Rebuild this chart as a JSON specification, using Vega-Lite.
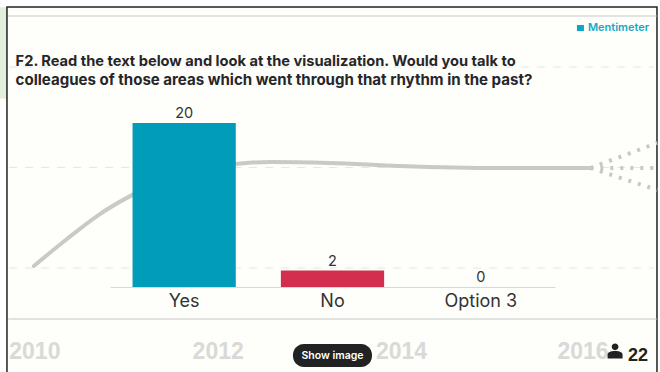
{"$schema":"https://vega.github.io/schema/vega-lite/v6.json","width":445,"height":164,"autosize":"none","padding":{"left":110,"top":123,"right":105,"bottom":85},"background":"#ffffff","view":{"stroke":null},
"datasets":{
"panels":[{"part":"side","x0":2009.62,"x1":2009.696,"l0":2.587,"l1":1.692},{"part":"slide","x0":2009.696,"x1":2016.787,"l0":2.597,"l1":-1.1}],
"guides":[{"level":2},{"level":1},{"level":0}],
"dividers":[{"level":2.507},{"level":-0.507}],
"trend":[{"year":2009.99,"level":0.02},{"year":2010.35,"level":0.289},{"year":2010.71,"level":0.537},{"year":2011.07,"level":0.73},{"year":2011.47,"level":0.9},{"year":2012.19,"level":1.035},{"year":2012.57,"level":1.055},{"year":2013.22,"level":1.045},{"year":2013.98,"level":1.015},{"year":2015.07,"level":0.995},{"year":2016.06,"level":0.995}],
"forecast":[{"s":"a","year":2016.06,"level":0.995},{"s":"a","year":2016.79,"level":1.244},{"s":"b","year":2016.06,"level":0.995},{"s":"b","year":2016.79,"level":0.995},{"s":"c","year":2016.06,"level":0.995},{"s":"c","year":2016.79,"level":0.776}],
"years":[{"year":2010,"level":-0.836,"label":"2010"},{"year":2012,"level":-0.836,"label":"2012"},{"year":2014,"level":-0.836,"label":"2014"},{"year":2015.98,"level":-0.836,"label":"2016"}],
"answers":[{"answer":"Yes","count":20},{"answer":"No","count":2},{"answer":"Option 3","count":0}]
},
"resolve":{"scale":{"x":"independent","y":"independent"},"axis":{"x":"independent","y":"independent"}},
"layer":[
{"layer":[
{"data":{"name":"panels"},"mark":{"type":"rect","clip":false},"encoding":{
"x":{"field":"x0","type":"quantitative","scale":{"domain":[2009.62,2016.82],"range":[-110,550],"nice":false,"zero":false},"axis":null},
"x2":{"field":"x1"},
"y":{"field":"l0","type":"quantitative","scale":{"domain":[-1.035,2.667],"range":[249,-123],"nice":false,"zero":false},"axis":null},
"y2":{"field":"l1"},
"fill":{"field":"part","type":"nominal","scale":{"domain":["side","slide"],"range":["#e3eedb","#fefefa"]},"legend":null},
"stroke":{"field":"part","type":"nominal","scale":{"domain":["side","slide"],"range":["#e3eedb","#222222"]},"legend":null},
"strokeWidth":{"value":1.5}}},
{"data":{"name":"guides"},"mark":{"type":"rule","stroke":"#e6e6e2","strokeWidth":1,"strokeDash":[8,8]},"encoding":{"y":{"field":"level","type":"quantitative"},"x":{"datum":2009.72},"x2":{"datum":2016.75}}},
{"data":{"name":"dividers"},"mark":{"type":"rule","stroke":"#e2e2e0","strokeWidth":2},"encoding":{"y":{"field":"level","type":"quantitative"},"x":{"datum":2009.71},"x2":{"datum":2016.78}}},
{"data":{"name":"trend"},"mark":{"type":"line","stroke":"#c9c9c7","strokeWidth":4,"interpolate":"monotone","strokeCap":"round"},"encoding":{"x":{"field":"year","type":"quantitative"},"y":{"field":"level","type":"quantitative"}}},
{"data":{"name":"forecast"},"mark":{"type":"line","stroke":"#c8c8c6","strokeWidth":4,"strokeDash":[3,7]},"encoding":{"x":{"field":"year","type":"quantitative"},"y":{"field":"level","type":"quantitative"},"detail":{"field":"s"}}},
{"data":{"name":"years"},"mark":{"type":"text","font":"Liberation Sans","fontWeight":"bold","fontSize":23,"fill":"#d9d9d7"},"encoding":{"x":{"field":"year","type":"quantitative"},"y":{"field":"level","type":"quantitative"},"text":{"field":"label"}}},
{"data":{"values":[{"year":2009.79,"level":2.05,"label":"F2. Read the text below and look at the visualization. Would you talk to"}]},"mark":{"type":"text","align":"left","font":"Inter","fontWeight":"bold","fontSize":14.65,"fill":"#26262a"},"encoding":{"x":{"field":"year","type":"quantitative"},"y":{"field":"level","type":"quantitative"},"text":{"field":"label"}}},
{"data":{"values":[{"year":2009.79,"level":1.87,"label":"colleagues of those areas which went through that rhythm in the past?"}]},"mark":{"type":"text","align":"left","font":"Inter","fontWeight":"bold","fontSize":15.05,"fill":"#26262a"},"encoding":{"x":{"field":"year","type":"quantitative"},"y":{"field":"level","type":"quantitative"},"text":{"field":"label"}}},
{"data":{"values":[{"x0":2015.914,"x1":2015.99,"l0":2.418,"l1":2.358}]},"mark":{"type":"rect","fill":"#0fa5c5"},"encoding":{"x":{"field":"x0","type":"quantitative"},"x2":{"field":"x1"},"y":{"field":"l0","type":"quantitative"},"y2":{"field":"l1"}}},
{"data":{"values":[{"year":2016.034,"level":2.388,"label":"Mentimeter"}]},"mark":{"type":"text","align":"left","font":"Inter","fontWeight":600,"fontSize":11,"fill":"#12a8c8"},"encoding":{"x":{"field":"year","type":"quantitative"},"y":{"field":"level","type":"quantitative"},"text":{"field":"label"}}},
{"data":{"values":[{"x0":2012.816,"x1":2013.678,"l0":-0.756,"l1":-0.985}]},"mark":{"type":"rect","fill":"#222222","cornerRadius":11},"encoding":{"x":{"field":"x0","type":"quantitative"},"x2":{"field":"x1"},"y":{"field":"l0","type":"quantitative"},"y2":{"field":"l1"}}},
{"data":{"values":[{"year":2013.247,"level":-0.872,"label":"Show image"}]},"mark":{"type":"text","font":"Inter","fontWeight":600,"fontSize":10.5,"fill":"#ffffff"},"encoding":{"x":{"field":"year","type":"quantitative"},"y":{"field":"level","type":"quantitative"},"text":{"field":"label"}}},
{"data":{"values":[{"year":2016.33,"level":-0.826}]},"mark":{"type":"point","filled":true,"fill":"#222222","opacity":1,"size":225,"shape":"M0,-1 A0.45,0.45 0 1 1 0,-0.1 A0.45,0.45 0 1 1 0,-1 Z M-1,1 L-1,0.5 C-1,0.15 -0.6,0 0,0 C0.6,0 1,0.15 1,0.5 L1,1 Z"},"encoding":{"x":{"field":"year","type":"quantitative"},"y":{"field":"level","type":"quantitative"}}},
{"data":{"values":[{"year":2016.47,"level":-0.876,"label":"22"}]},"mark":{"type":"text","align":"left","font":"Liberation Sans","fontWeight":"bold","fontSize":18,"fill":"#222222"},"encoding":{"x":{"field":"year","type":"quantitative"},"y":{"field":"level","type":"quantitative"},"text":{"field":"label"}}}
]},
{"data":{"name":"answers"},"layer":[
{"mark":{"type":"bar"},"encoding":{
"x":{"field":"answer","type":"nominal","sort":null,"scale":{"paddingInner":0.304,"paddingOuter":0.152},"axis":{"orient":"bottom","title":null,"labelAngle":0,"ticks":false,"domainColor":"#d8d8d6","labelFont":"Inter","labelFontSize":18,"labelColor":"#333333","labelPadding":5,"zindex":1}},
"y":{"field":"count","type":"quantitative","scale":{"domain":[0,20],"nice":false},"axis":null},
"color":{"field":"answer","type":"nominal","sort":null,"scale":{"domain":["Yes","No","Option 3"],"range":["#009cb9","#d42e4f","#c9c9c9"]},"legend":null}}},
{"mark":{"type":"text","baseline":"bottom","dy":-2,"font":"Inter","fontSize":14.5,"fill":"#333333"},"encoding":{
"x":{"field":"answer","type":"nominal","sort":null},
"y":{"field":"count","type":"quantitative"},
"text":{"field":"count","type":"quantitative"}}}
]}
]}
